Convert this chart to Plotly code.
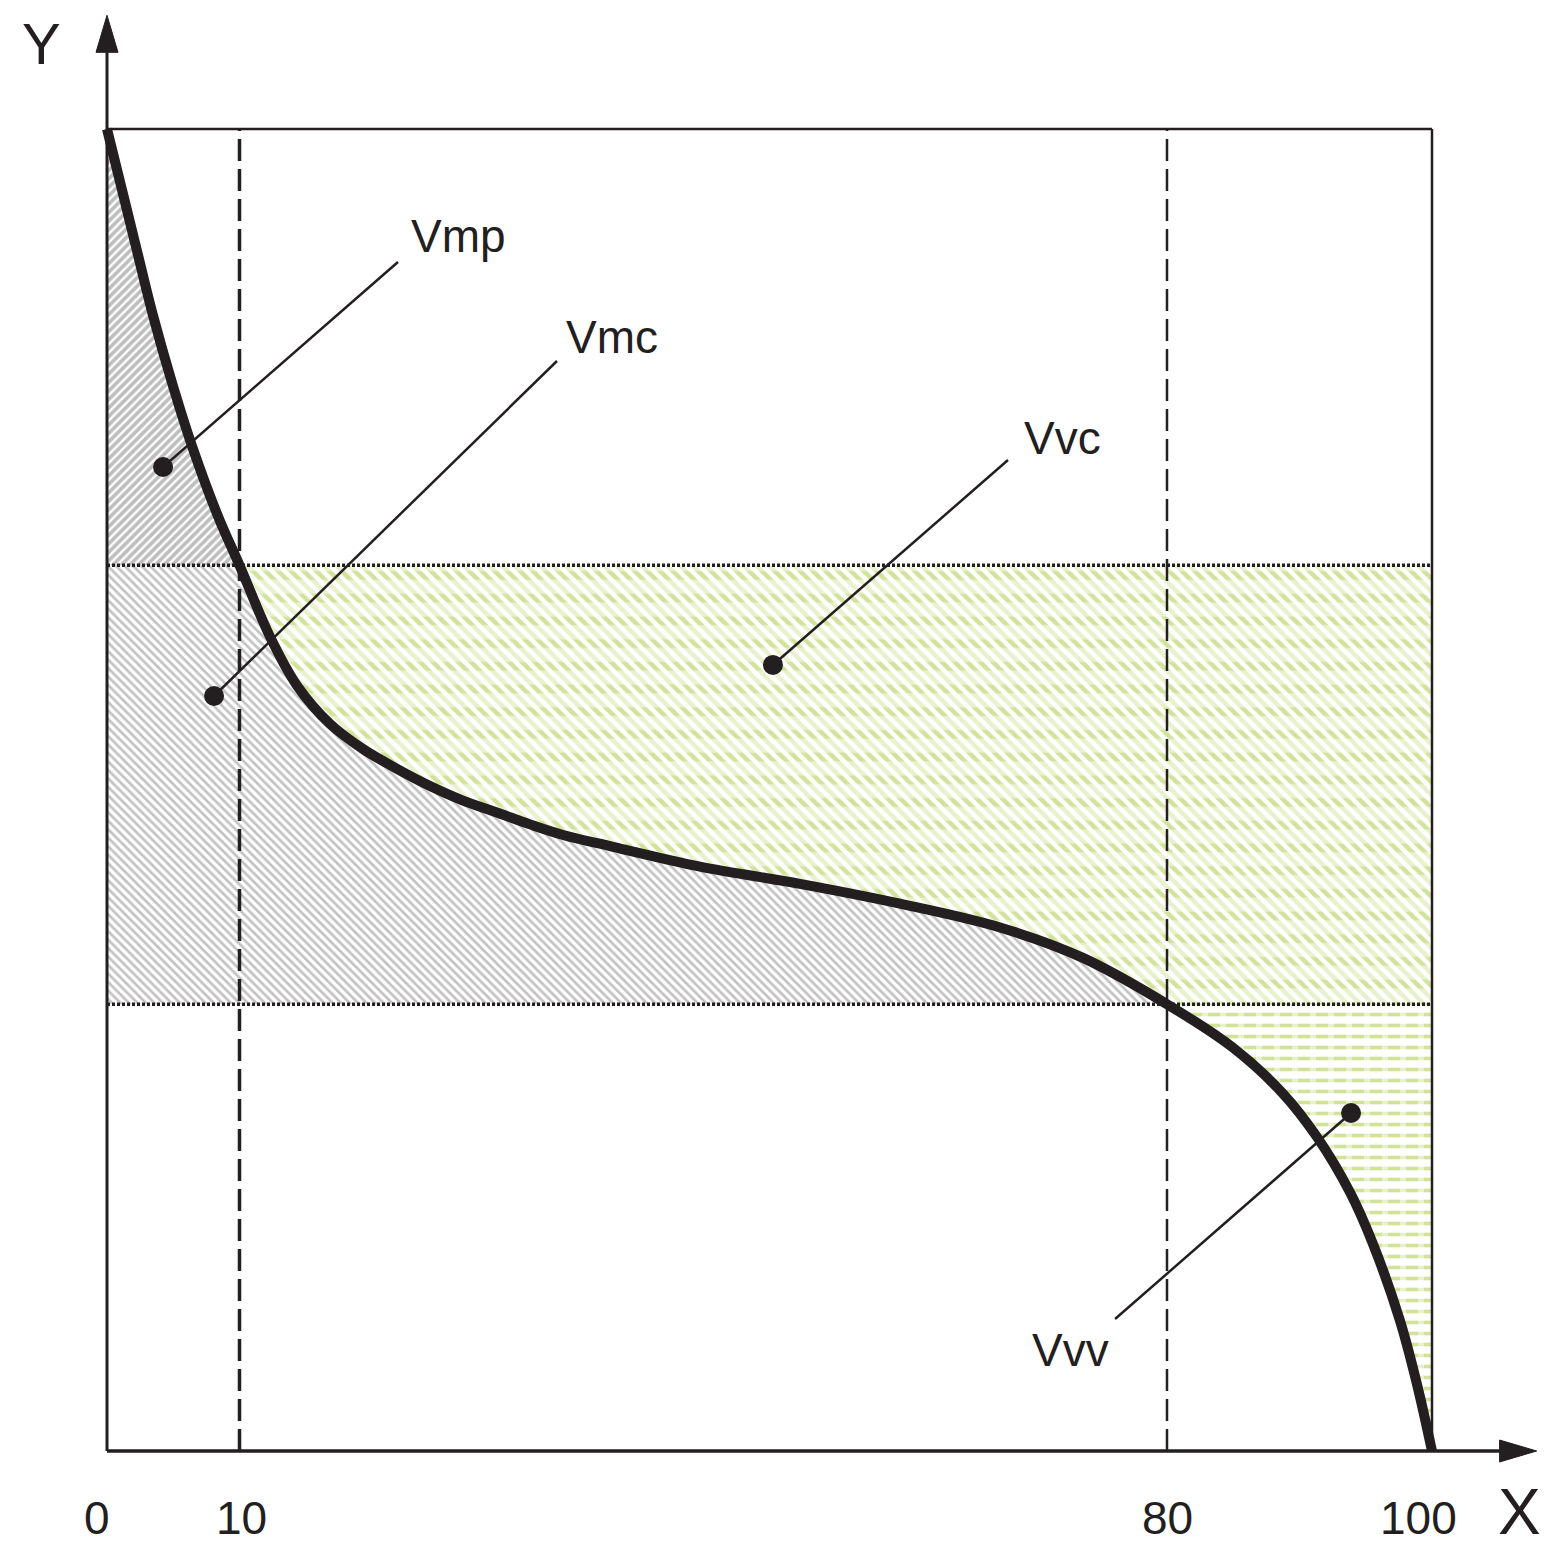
import numpy as np
import plotly.graph_objects as go

# material ratio curve (x in %, y in relative height units)
curve_x = [0.0, 1.13, 2.26, 3.47, 4.91, 6.49, 8.38, 10.0, 12.3, 14.34, 16.83, 19.32,
           21.89, 24.38, 26.87, 29.43, 31.92, 34.42, 38.19, 44.75, 52.3, 59.85, 67.4,
           73.66, 80.0, 84.98, 88.75, 91.32, 93.81, 95.55, 97.58, 98.87, 100.0]
curve_y = [100.0, 95.4, 90.8, 85.9, 80.8, 75.8, 70.7, 67.0, 61.6, 57.9, 55.0, 53.1,
           51.6, 50.3, 49.2, 48.3, 47.4, 46.6, 45.7, 44.2, 42.9, 41.4, 39.6,
           37.3, 33.8, 30.51, 27.04, 23.75, 19.57, 15.65, 9.87, 5.03, 0.0]

y_upper = 67.0
y_lower = 33.8
x_marks = [10, 80]

tick_vals = [0, 10, 80, 100]
tick_text = ['0', '10', '80', '100']

labels = ['Vmp', 'Vmc', 'Vvc', 'Vvv']
label_x = [26.5, 38.11, 72.08, 72.68]
label_y = [91.9, 84.27, 76.63, 7.64]
leader_x0 = [21.96, 33.96, 68.0, 76.08]
leader_y0 = [89.94, 82.45, 74.96, 9.98]
dot_x = [4.23, 8.08, 50.26, 93.89]
dot_y = [74.43, 57.11, 59.46, 25.57]

INK = '#231f20'
GREEN = '#a6c634'
GREY = '#858585'
FONT = 'Liberation Sans, Arial, sans-serif'

cx = np.array(curve_x)
cy = np.array(curve_y)
i_up = curve_x.index(x_marks[0])
i_lo = curve_x.index(x_marks[1])

fig = go.Figure()


def patch(xs, ys, shape, color, size, solidity):
    fig.add_trace(go.Scatter(
        x=xs, y=ys, mode='lines', fill='toself',
        line=dict(width=0, color='rgba(0,0,0,0)'),
        fillcolor='rgba(0,0,0,0)',
        fillpattern=dict(shape=shape, fgcolor=color, bgcolor='rgba(0,0,0,0)',
                         size=size, solidity=solidity),
        hoverinfo='skip', showlegend=False
    ))


# Vmp - peak material volume
vmp_x = np.concatenate([cx[:i_up + 1], [0]])
vmp_y = np.concatenate([cy[:i_up + 1], [y_upper]])
patch(vmp_x, vmp_y, '/', '#7d7d7d', 6, 0.62)

# Vmc - core material volume
vmc_x = np.concatenate([[0], cx[i_up:i_lo + 1], [0]])
vmc_y = np.concatenate([[y_upper], cy[i_up:i_lo + 1], [y_lower]])
patch(vmc_x, vmc_y, '\\', GREY, 6, 0.45)

# Vvc - core void volume (banded hatch)
vvc_x = np.concatenate([[x_marks[0], 100, 100], cx[i_lo:i_up - 1:-1]])
vvc_y = np.concatenate([[y_upper, y_upper, y_lower], cy[i_lo:i_up - 1:-1]])
patch(vvc_x, vvc_y, '\\', GREEN, 9, 0.5)
patch(vvc_x, vvc_y, '-', 'white', 22.7, 0.62)

# Vvv - valley void volume (dashed rows)
vvv_x = np.concatenate([cx[i_lo:], [100, 100]])
vvv_y = np.concatenate([cy[i_lo:], [0, y_lower]])
patch(vvv_x, vvv_y, '-', GREEN, 11, 0.33)
patch(vvv_x, vvv_y, '|', 'white', 18, 0.33)

# the curve itself
fig.add_trace(go.Scatter(
    x=curve_x, y=curve_y, mode='lines',
    line=dict(color=INK, width=10, shape='spline', smoothing=1.0),
    hoverinfo='skip', showlegend=False
))

# leader lines and dots
for i in range(len(labels)):
    fig.add_trace(go.Scatter(
        x=[leader_x0[i], dot_x[i]], y=[leader_y0[i], dot_y[i]], mode='lines',
        line=dict(color=INK, width=2.5), hoverinfo='skip', showlegend=False
    ))
fig.add_trace(go.Scatter(
    x=dot_x, y=dot_y, mode='markers',
    marker=dict(color=INK, size=20, line=dict(width=0)),
    hoverinfo='skip', showlegend=False
))

# frame, reference lines and axes
AX_TIP_X = 107.9
AX_TIP_Y = 108.6
HEAD_LEN_X = 2.8
HEAD_LEN_Y = 2.8
HEAD_HALF_X = 0.83
HEAD_HALF_Y = 0.83

shapes = [
    dict(type='line', x0=0, y0=100, x1=100, y1=100, line=dict(color=INK, width=2.5)),
    dict(type='line', x0=100, y0=0, x1=100, y1=100, line=dict(color=INK, width=2.5)),
    dict(type='line', x0=0, y0=0, x1=AX_TIP_X - HEAD_LEN_X, y1=0, line=dict(color=INK, width=3.5)),
    dict(type='line', x0=0, y0=0, x1=0, y1=AX_TIP_Y - HEAD_LEN_Y, line=dict(color=INK, width=3)),
    dict(type='path', fillcolor=INK, line=dict(color=INK, width=1),
         path=f'M {AX_TIP_X},0 L {AX_TIP_X - HEAD_LEN_X},{HEAD_HALF_Y} '
              f'L {AX_TIP_X - HEAD_LEN_X},{-HEAD_HALF_Y} Z'),
    dict(type='path', fillcolor=INK, line=dict(color=INK, width=1),
         path=f'M 0,{AX_TIP_Y} L {HEAD_HALF_X},{AX_TIP_Y - HEAD_LEN_Y} '
              f'L {-HEAD_HALF_X},{AX_TIP_Y - HEAD_LEN_Y} Z'),
]
for yv in [y_upper, y_lower]:
    shapes.append(dict(type='line', x0=0, y0=yv, x1=100, y1=yv,
                       line=dict(color=INK, width=3.5, dash='3px,2px')))
for xv, w in zip(x_marks, [3.5, 2.5]):
    shapes.append(dict(type='line', x0=xv, y0=0, x1=xv, y1=100,
                       line=dict(color=INK, width=w, dash='22px,8px')))
for s in shapes:
    s.update(xref='x', yref='y', layer='above')

annotations = []
for t, v, sh in zip(tick_text, tick_vals, [-10, 2, 0, -14]):
    annotations.append(dict(x=v, y=-5.1, text=t, showarrow=False, xshift=sh,
                            font=dict(family=FONT, size=46, color=INK)))
for t, lx, ly in zip(labels, label_x, label_y):
    annotations.append(dict(x=lx, y=ly, text=t, showarrow=False,
                            font=dict(family=FONT, size=46, color=INK)))
annotations.append(dict(x=106.64, y=-4.6, text='X', showarrow=False,
                        font=dict(family=FONT, size=64, color=INK)))
annotations.append(dict(x=-4.98, y=106.45, text='Y', showarrow=False,
                        font=dict(family=FONT, size=58, color=INK)))

# ranges offset for the 8px page margin so that the origin lands at (107, 1451)
fig.update_layout(
    width=1553, height=1561,
    margin=dict(l=0, r=0, t=0, b=0),
    paper_bgcolor='white', plot_bgcolor='white',
    xaxis=dict(range=[-7.472, 109.736], visible=False),
    yaxis=dict(range=[-8.926, 109.153], visible=False),
    shapes=shapes, annotations=annotations, showlegend=False
)

fig.write_html("out.html")
